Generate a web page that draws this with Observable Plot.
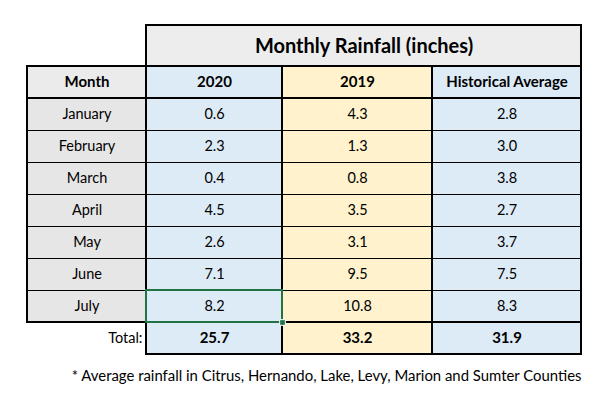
<!DOCTYPE html>
<html>
<head>
<meta charset="utf-8">
<script src="https://cdn.jsdelivr.net/npm/d3@7"></script>
<script src="https://cdn.jsdelivr.net/npm/@observablehq/plot@0.6"></script>
<style>
  html, body { margin: 0; padding: 0; background: #ffffff; }
  #chart svg { display: block; }
</style>
</head>
<body>
<div id="chart"></div>
<script>
// ---------- data ----------
const title = "Monthly Rainfall (inches)";
const columns = ["Month", "2020", "2019", "Historical Average"];
const months = ["January", "February", "March", "April", "May", "June", "July"];
const rain2020 = [0.6, 2.3, 0.4, 4.5, 2.6, 7.1, 8.2];
const rain2019 = [4.3, 1.3, 0.8, 3.5, 3.1, 9.5, 10.8];
const rainHistorical = [2.8, 3.0, 3.8, 2.7, 3.7, 7.5, 8.3];
const totalLabel = "Total:";
const totals = [25.7, 33.2, 31.9];
const footnote = "* Average rainfall in Citrus, Hernando, Lake, Levy, Marion and Sumter Counties";
const selectedMonth = "July";   // highlighted cell (2020 column)

// ---------- layout (not data) ----------
const colWidths = [119, 136, 150, 149];
const titleHeight = 41, rowHeight = 32, footGap = 22;
const colFills = ["#e7e6e6", "#ddebf7", "#fff2cc", "#ddebf7"];
const headerFills = ["#ebebeb", "#ddebf7", "#fff2cc", "#ddebf7"];
const titleFill = "#ededed";
const font = "Lato, 'Open Sans', sans-serif";

const colEdges = Array.from(d3.cumsum([0, ...colWidths]));
const rowKeys = ["title", "header", ...months, "total"];
const rowHeights = rowKeys.map(k => k === "title" ? titleHeight : rowHeight);
const rowEdges = Array.from(d3.cumsum([0, ...rowHeights]));
const rowTop = k => rowEdges[rowKeys.indexOf(k)];
const rowBot = k => rowEdges[rowKeys.indexOf(k) + 1];
const colMid = c => (colEdges[c] + colEdges[c + 1]) / 2;
const rowMid = k => (rowTop(k) + rowBot(k)) / 2;
const tableW = colEdges[colEdges.length - 1];
const tableH = rowEdges[rowEdges.length - 1];

const series = [rain2020, rain2019, rainHistorical];
const fmt = d3.format(".1f");

// ---------- cell tables ----------
const fills = [];
const texts = [];
fills.push({x1: colEdges[1], x2: colEdges[4], y1: rowTop("title"), y2: rowBot("title"), fill: titleFill});
texts.push({x: (colEdges[1] + colEdges[4]) / 2, y: rowMid("title") + 1, text: title, weight: "bold", size: 20});
columns.forEach((c, i) => {
  fills.push({x1: colEdges[i], x2: colEdges[i + 1], y1: rowTop("header"), y2: rowBot("header"), fill: headerFills[i]});
  texts.push({x: colMid(i), y: rowMid("header"), text: c, weight: "bold", size: 15});
});
months.forEach((m, r) => {
  fills.push({x1: colEdges[0], x2: colEdges[1], y1: rowTop(m), y2: rowBot(m), fill: colFills[0]});
  texts.push({x: colMid(0), y: rowMid(m), text: m, weight: "normal", size: 14.5});
  series.forEach((s, j) => {
    const c = j + 1;
    fills.push({x1: colEdges[c], x2: colEdges[c + 1], y1: rowTop(m), y2: rowBot(m), fill: colFills[c]});
    texts.push({x: colMid(c), y: rowMid(m), text: fmt(s[r]), weight: "normal", size: 14.5});
  });
});
const endTexts = [{x: colEdges[1] - 4, y: rowMid("total"), text: totalLabel, size: 14.5}];
totals.forEach((t, j) => {
  const c = j + 1;
  fills.push({x1: colEdges[c], x2: colEdges[c + 1], y1: rowTop("total"), y2: rowBot("total"), fill: colFills[c]});
  texts.push({x: colMid(c), y: rowMid("total"), text: fmt(t), weight: "bold", size: 15});
});

// thick outlines
const thick = [];
thick.push({x1: colEdges[1], x2: colEdges[4], y1: rowTop("title"), y2: rowBot("title")});
columns.forEach((c, i) => {
  thick.push({x1: colEdges[i], x2: colEdges[i + 1], y1: rowTop("header"), y2: rowBot("header")});
  thick.push({x1: colEdges[i], x2: colEdges[i + 1], y1: rowTop(months[0]), y2: rowBot(months[months.length - 1])});
});
totals.forEach((t, j) => {
  thick.push({x1: colEdges[j + 1], x2: colEdges[j + 2], y1: rowTop("total"), y2: rowBot("total")});
});
// thin row separators between months
const thinRules = months.slice(1).map(m => ({y: rowTop(m)}));

const sel = {x1: colEdges[1], x2: colEdges[2], y1: rowTop(selectedMonth), y2: rowBot(selectedMonth)};

const footY = tableH + footGap;

const chart = Plot.plot({
  width: 604,
  height: 408,
  margin: 0,
  style: {fontFamily: font, background: "#ffffff", color: "#000"},
  x: {type: "linear", domain: [0, tableW], range: [27, 581], axis: null},
  y: {type: "linear", domain: [0, tableH], range: [25, 354], axis: null},
  marks: [
    Plot.rect(fills, {x1: "x1", x2: "x2", y1: "y1", y2: "y2", fill: d => d.fill, inset: 0}),
    Plot.ruleY(thinRules, {y: "y", x1: colEdges[0], x2: tableW, stroke: "#000", strokeWidth: 1}),
    Plot.rect(thick, {x1: "x1", x2: "x2", y1: "y1", y2: "y2", fill: "none", stroke: "#000", strokeWidth: 2, inset: 0}),
    Plot.rect([sel], {x1: "x1", x2: "x2", y1: "y1", y2: "y2", fill: "none", stroke: "#217346", strokeWidth: 2, inset: 0}),
    Plot.dot([sel], {x: "x2", y: "y2", symbol: "square", r: 3.2, fill: "#217346", stroke: "#ffffff", strokeWidth: 1}),
    Plot.text(texts.filter(d => d.weight === "bold"), {x: "x", y: "y", text: "text", fontWeight: "bold", fontSize: d => d.size, textAnchor: "middle", fill: "#000", lineAnchor: "middle"}),
    Plot.text(texts.filter(d => d.weight !== "bold"), {x: "x", y: "y", text: "text", fontSize: d => d.size, textAnchor: "middle", fill: "#000", lineAnchor: "middle"}),
    Plot.text(endTexts, {x: "x", y: "y", text: "text", fontSize: d => d.size, textAnchor: "end", fill: "#000", lineAnchor: "middle"}),
    Plot.text([footnote], {x: tableW, y: footY, text: d => d, textAnchor: "end", fontSize: 14.9, fill: "#000"})
  ]
});
document.getElementById("chart").appendChild(chart);
</script>
</body>
</html>
